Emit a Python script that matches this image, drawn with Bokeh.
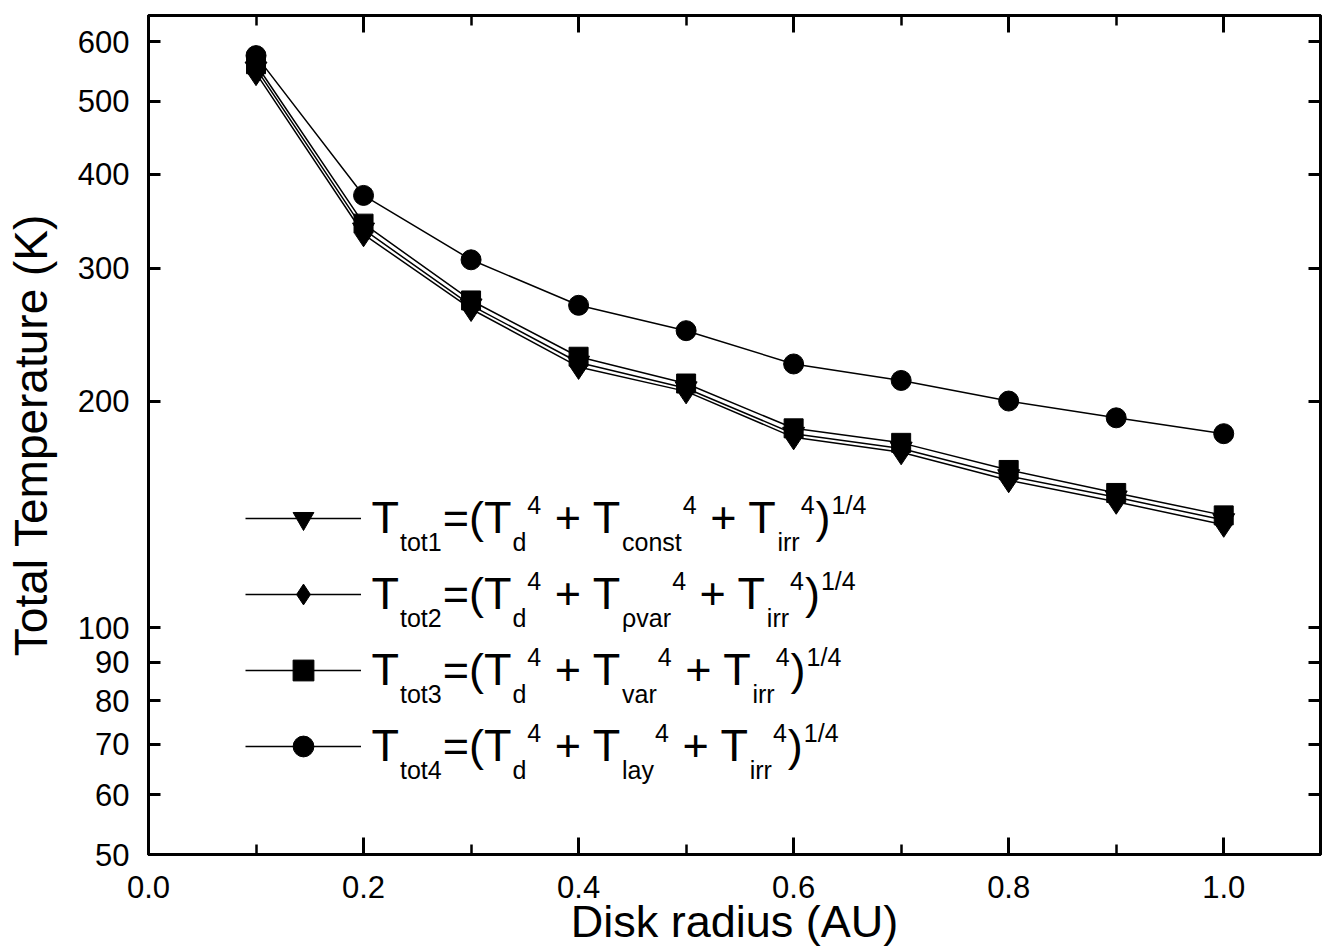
from bokeh.plotting import figure
from bokeh.models import (Range1d, FixedTicker, SingleIntervalTicker, LinearAxis, LogAxis,
                          Legend, LegendItem, Label, PrintfTickFormatter, BasicTickFormatter,
                          CustomJSTickFormatter)
from bokeh.embed import file_html
from bokeh.resources import INLINE

# ---------------- data ----------------
radius = [0.1, 0.2, 0.3, 0.4, 0.5, 0.6, 0.7, 0.8, 0.9, 1.0]
t_tot1 = [553, 338, 268, 225, 208, 181, 173, 159, 149, 139]
t_tot2 = [545, 333, 265, 222, 206, 179, 171, 157, 147, 137]
t_tot3 = [560, 344, 272, 229, 211, 184, 176, 162, 151, 141]
t_tot4 = [575, 375, 308, 268, 248, 224, 213, 200, 190, 181]

y_ticks = [50, 60, 70, 80, 90, 100, 200, 300, 400, 500, 600]

x_title = "Disk radius (AU)"
y_title = "Total Temperature (K)"

# legend label pieces: (text, kind) kind in b (base), sub, sup
legend_rows = [
    [("T", "b"), ("tot1", "sub"), ("=(T", "b"), ("d", "sub"), ("4", "sup"), (" + T", "b"),
     ("const", "sub"), ("4", "sup"), (" + T", "b"), ("irr", "sub"), ("4", "sup"), (")", "b"), ("1/4", "sup")],
    [("T", "b"), ("tot2", "sub"), ("=(T", "b"), ("d", "sub"), ("4", "sup"), (" + T", "b"),
     ("\u03c1var", "sub"), ("4", "sup"), (" + T", "b"), ("irr", "sub"), ("4", "sup"), (")", "b"), ("1/4", "sup")],
    [("T", "b"), ("tot3", "sub"), ("=(T", "b"), ("d", "sub"), ("4", "sup"), (" + T", "b"),
     ("var", "sub"), ("4", "sup"), (" + T", "b"), ("irr", "sub"), ("4", "sup"), (")", "b"), ("1/4", "sup")],
    [("T", "b"), ("tot4", "sub"), ("=(T", "b"), ("d", "sub"), ("4", "sup"), (" + T", "b"),
     ("lay", "sub"), ("4", "sup"), (" + T", "b"), ("irr", "sub"), ("4", "sup"), (")", "b"), ("1/4", "sup")],
]

FONT = "Liberation Sans"

p = figure(width=1323, height=949, x_range=Range1d(0, 1.09), y_range=Range1d(50, 650),
           y_axis_type="log", output_backend="svg", toolbar_location=None,
           min_border_left=148, min_border_right=3, min_border_top=15, min_border_bottom=94,
           background_fill_color="white", border_fill_color="white")
p.xgrid.visible = False
p.ygrid.visible = False
p.outline_line_color = "black"
p.outline_line_width = 3

x_ticker = SingleIntervalTicker(interval=0.2, num_minor_ticks=2)
y_ticker = FixedTicker(ticks=y_ticks, minor_ticks=[])

def style_axis(ax, major_in, minor_in):
    ax.axis_line_width = 3
    ax.axis_line_color = "black"
    ax.major_tick_in = major_in
    ax.major_tick_out = 0
    ax.minor_tick_in = minor_in
    ax.minor_tick_out = 0
    ax.major_tick_line_width = 3
    ax.minor_tick_line_width = 2.5
    ax.major_label_text_font = FONT
    ax.major_label_text_font_size = "31px"
    ax.major_label_text_color = "black"
    ax.axis_label_text_font = FONT
    ax.axis_label_text_font_style = "normal"
    ax.axis_label_text_color = "black"

xa = p.xaxis[0]
xa.ticker = x_ticker
xa.formatter = PrintfTickFormatter(format="%.1f")
style_axis(xa, 17, 10)
xa.major_label_standoff = 21
xa.axis_label = x_title
xa.axis_label_text_font_size = "45px"
xa.axis_label_standoff = -5

ya = p.yaxis[0]
ya.ticker = y_ticker
ya.formatter = BasicTickFormatter()
style_axis(ya, 12, 0)
ya.major_label_standoff = 19
ya.axis_label = y_title
ya.axis_label_text_font_size = "46px"
ya.axis_label_standoff = 18

blank = CustomJSTickFormatter(code="return ''")
top = LinearAxis(ticker=SingleIntervalTicker(interval=0.2, num_minor_ticks=2), formatter=blank)
style_axis(top, 17, 10)
p.add_layout(top, "above")
right = LogAxis(ticker=FixedTicker(ticks=y_ticks, minor_ticks=[]), formatter=blank)
style_axis(right, 12, 0)
p.add_layout(right, "right")

series = [
    (t_tot1, "inverted_triangle", 22),
    (t_tot2, "diamond", 25),
    (t_tot3, "square", 19),
    (t_tot4, "circle", 20),
]
items = []
for vals, marker, size in series:
    ln = p.line(radius, vals, line_color="black", line_width=1.5)
    sc = p.scatter(radius, vals, marker=marker, size=size,
                   fill_color="black", line_color="black")
    items.append(LegendItem(label="", renderers=[ln, sc]))

legend = Legend(items=items, location=(97, 82), glyph_width=116, glyph_height=52,
                label_height=52, label_width=0, label_standoff=0, spacing=24,
                padding=0, margin=0, border_line_color=None, background_fill_alpha=0,
                label_text_font_size="1px")
p.add_layout(legend)

# ---- formatted legend labels (sub/superscripts) ----
W = {"T": .611, "t": .278, "o": .556, "=": .584, "(": .333, ")": .333, "d": .556,
     "+": .584, " ": .278, "c": .5, "n": .556, "s": .5, "i": .222, "r": .333, "v": .5,
     "a": .556, "l": .222, "y": .5, "/": .278, "\u03c1": .576}
B, S = 45, 25

def tw(s, size):
    return sum(W.get(ch, .556) for ch in s) * size

frame_left, frame_bottom = 148, 855
row_centers = [519, 595, 671, 747]
for row, cy in zip(legend_rows, row_centers):
    x = 371.0
    mid = cy - 1
    for text, kind in row:
        size = B if kind == "b" else S
        stripped = text.lstrip(" ")
        x += tw(text[:len(text) - len(stripped)], size)
        ym = mid + (24 if kind == "sub" else (-13 if kind == "sup" else 0))
        p.add_layout(Label(x=x - frame_left, y=frame_bottom - ym, x_units="screen", y_units="screen",
                           text=stripped, text_font=FONT, text_font_size=f"{size}px",
                           text_color="black", text_baseline="middle", text_align="left"))
        x += tw(stripped, size) + 1.0

open("out.html", "w").write(file_html(p, INLINE))
